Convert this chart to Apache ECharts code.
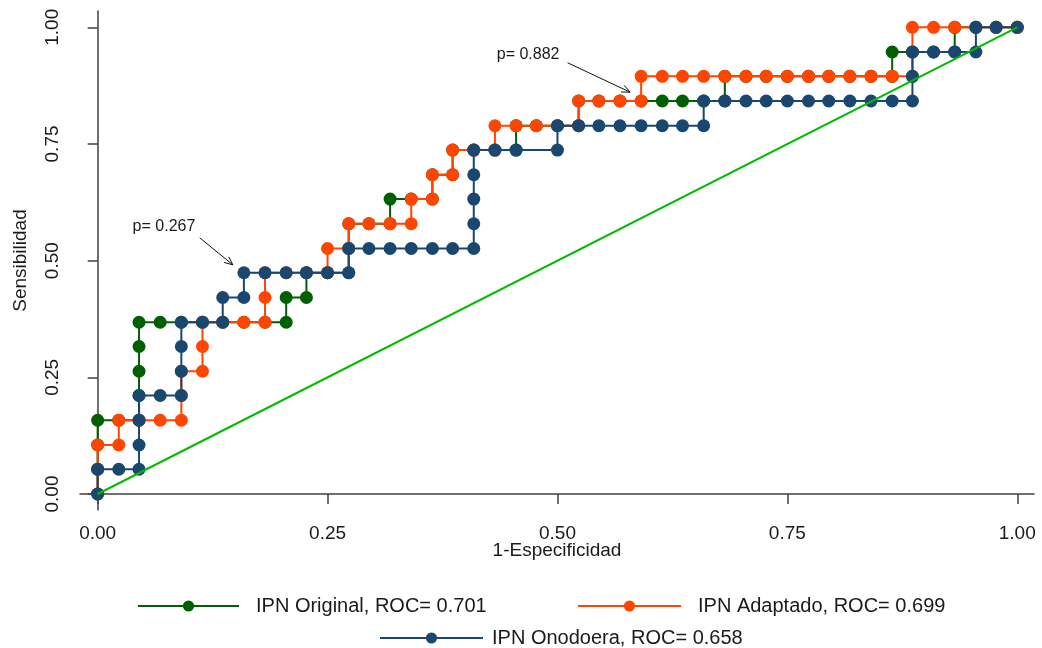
<!DOCTYPE html>
<html><head><meta charset="utf-8">
<script src="https://cdn.jsdelivr.net/npm/echarts@6/dist/echarts.min.js"></script>
<style>html,body{margin:0;padding:0;background:#fff}#c{width:1042px;height:648px}</style>
</head><body><div id="c"></div>
<script>
const tickValues = [0, 0.25, 0.5, 0.75, 1];
const seriesNames = ['IPN Original, ROC= 0.701', 'IPN Adaptado, ROC= 0.699', 'IPN Onodoera, ROC= 0.658'];
const xTitle = '1-Especificidad';
const yTitle = 'Sensibilidad';

const original = [[0,0],[0,.053],[0,.105],[0,.158],[.023,.158],[.045,.158],[.045,.211],[.045,.263],[.045,.316],[.045,.368],[.068,.368],[.091,.368],[.114,.368],[.136,.368],[.159,.368],[.182,.368],[.205,.368],[.205,.421],[.227,.421],[.227,.474],[.25,.474],[.273,.474],[.273,.526],[.273,.579],[.295,.579],[.318,.579],[.318,.632],[.341,.632],[.364,.632],[.364,.684],[.386,.684],[.386,.737],[.409,.737],[.432,.737],[.455,.737],[.455,.789],[.477,.789],[.5,.789],[.523,.789],[.523,.842],[.545,.842],[.568,.842],[.591,.842],[.614,.842],[.636,.842],[.659,.842],[.682,.842],[.682,.895],[.705,.895],[.727,.895],[.75,.895],[.773,.895],[.795,.895],[.818,.895],[.841,.895],[.864,.895],[.864,.947],[.886,.947],[.909,.947],[.932,.947],[.932,1],[.955,1],[.977,1],[1,1]];

const adaptado = [[0,0],[0,.053],[0,.105],[.023,.105],[.023,.158],[.045,.158],[.068,.158],[.091,.158],[.091,.211],[.091,.263],[.114,.263],[.114,.316],[.114,.368],[.136,.368],[.159,.368],[.182,.368],[.182,.421],[.182,.474],[.205,.474],[.227,.474],[.25,.474],[.25,.526],[.273,.526],[.273,.579],[.295,.579],[.318,.579],[.341,.579],[.341,.632],[.364,.632],[.364,.684],[.386,.684],[.386,.737],[.409,.737],[.432,.737],[.432,.789],[.455,.789],[.477,.789],[.5,.789],[.523,.789],[.523,.842],[.545,.842],[.568,.842],[.591,.842],[.591,.895],[.614,.895],[.636,.895],[.659,.895],[.682,.895],[.705,.895],[.727,.895],[.75,.895],[.773,.895],[.795,.895],[.818,.895],[.841,.895],[.864,.895],[.886,.895],[.886,.947],[.886,1],[.909,1],[.932,1],[.955,1],[.977,1],[1,1]];

const onodoera = [[0,0],[0,.053],[.023,.053],[.045,.053],[.045,.105],[.045,.158],[.045,.211],[.068,.211],[.091,.211],[.091,.263],[.091,.316],[.091,.368],[.114,.368],[.136,.368],[.136,.421],[.159,.421],[.159,.474],[.182,.474],[.205,.474],[.227,.474],[.25,.474],[.273,.474],[.273,.526],[.295,.526],[.318,.526],[.341,.526],[.364,.526],[.386,.526],[.409,.526],[.409,.579],[.409,.632],[.409,.684],[.409,.737],[.432,.737],[.455,.737],[.5,.737],[.5,.789],[.523,.789],[.545,.789],[.568,.789],[.591,.789],[.614,.789],[.636,.789],[.659,.789],[.659,.842],[.682,.842],[.705,.842],[.727,.842],[.75,.842],[.773,.842],[.795,.842],[.818,.842],[.841,.842],[.864,.842],[.886,.842],[.886,.895],[.886,.947],[.909,.947],[.932,.947],[.955,.947],[.955,1],[.977,1],[1,1]];

const reference = [[0,0],[1,1]];

const annotationTexts = ['p= 0.267', 'p= 0.882'];
const annotationTextAt = [[0.038, 0.572], [0.434, 0.941]];
const arrowFrom = [[0.111, 0.549], [0.511, 0.924]];
const arrowTo = [[0.147, 0.491], [0.579, 0.861]];

const FONT = "'Liberation Sans', Arial, sans-serif";
const TXT = '#1a1a1a';
const colors = ['#005f00', '#ff4500', '#1a476f'];

function rocSeries(name, data, color, z) {
  return {
    type: 'line', name: name, data: data, z: z,
    symbol: 'circle', symbolSize: 13, showSymbol: true,
    lineStyle: { color: color, width: 2 },
    itemStyle: { color: color },
    emphasis: { disabled: true }, animation: false
  };
}

const chart = echarts.init(document.getElementById('c'), null, { renderer: 'canvas' });
chart.setOption({
  backgroundColor: '#fff',
  animation: false,
  textStyle: { fontFamily: FONT },
  grid: { left: 80, right: 8, top: 11, bottom: 138, containLabel: false },
  xAxis: {
    type: 'value', min: -0.0192, max: 1.0182,
    name: xTitle, nameLocation: 'middle', nameGap: 31, nameMoveOverlap: false,
    nameTextStyle: { fontSize: 19, color: TXT, fontFamily: FONT },
    axisLine: { show: true, lineStyle: { color: '#404040', width: 1.5 } },
    axisTick: { show: true, inside: false, length: 10, customValues: tickValues, lineStyle: { color: '#404040', width: 1.5 } },
    axisLabel: { customValues: tickValues, formatter: v => v.toFixed(2), fontSize: 19, color: TXT, margin: 14, fontFamily: FONT },
    splitLine: { show: false }
  },
  yAxis: {
    type: 'value', min: -0.0343, max: 1.0349,
    name: yTitle, nameLocation: 'middle', nameGap: 50, nameMoveOverlap: false,
    nameTextStyle: { fontSize: 19, color: TXT, fontFamily: FONT },
    axisLine: { show: true, lineStyle: { color: '#404040', width: 1.5 } },
    axisTick: { show: true, inside: false, length: 10, customValues: tickValues, lineStyle: { color: '#404040', width: 1.5 } },
    axisLabel: { customValues: tickValues, formatter: v => v.toFixed(2), rotate: 90, fontSize: 19, color: TXT, margin: 18, fontFamily: FONT },
    splitLine: { show: false }
  },
  legend: [
    { data: [seriesNames[0]], left: 137, top: 596, padding: 0, itemWidth: 101, itemHeight: 14, selectedMode: false,
      textStyle: { fontSize: 20, color: TXT, fontFamily: FONT, padding: [0, 0, 0, 12] } },
    { data: [seriesNames[1]], left: 577, top: 596, padding: 0, itemWidth: 103, itemHeight: 14, selectedMode: false,
      textStyle: { fontSize: 20, color: TXT, fontFamily: FONT, padding: [0, 0, 0, 12] } },
    { data: [seriesNames[2]], left: 379, top: 628, padding: 0, itemWidth: 103, itemHeight: 14, selectedMode: false,
      textStyle: { fontSize: 20, color: TXT, fontFamily: FONT, padding: [0, 0, 0, 4] } }
  ],
  series: [
    rocSeries(seriesNames[0], original, colors[0], 2),
    rocSeries(seriesNames[1], adaptado, colors[1], 3),
    rocSeries(seriesNames[2], onodoera, colors[2], 4),
    { type: 'line', name: 'Referencia', data: reference, symbol: 'none', z: 5,
      lineStyle: { color: '#00bb00', width: 2 }, emphasis: { disabled: true }, silent: true }
  ]
});

const elements = [];
for (let i = 0; i < annotationTexts.length; i++) {
  const tp = chart.convertToPixel({ gridIndex: 0 }, annotationTextAt[i]);
  const a = chart.convertToPixel({ gridIndex: 0 }, arrowFrom[i]);
  const b = chart.convertToPixel({ gridIndex: 0 }, arrowTo[i]);
  elements.push({ type: 'text', z: 10, style: { text: annotationTexts[i], x: tp[0], y: tp[1], align: 'left', verticalAlign: 'middle', font: '16px ' + FONT, fill: TXT } });
  elements.push({ type: 'line', z: 10, shape: { x1: a[0], y1: a[1], x2: b[0], y2: b[1] }, style: { stroke: '#111', lineWidth: 1 } });
  const ang = Math.atan2(b[1] - a[1], b[0] - a[0]);
  const L = 9, s = 0.42;
  const p1 = [b[0] - L * Math.cos(ang - s), b[1] - L * Math.sin(ang - s)];
  const p2 = [b[0] - L * Math.cos(ang + s), b[1] - L * Math.sin(ang + s)];
  elements.push({ type: 'polyline', z: 10, shape: { points: [p1, b, p2] }, style: { stroke: '#111', lineWidth: 1, fill: null } });
}
chart.setOption({ graphic: elements });
</script>
</body></html>
